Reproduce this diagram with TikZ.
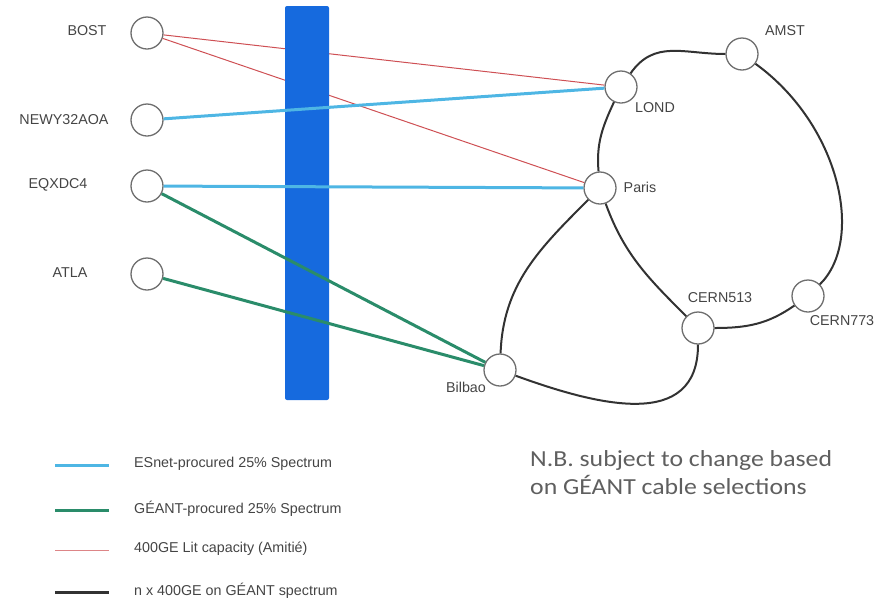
\documentclass[tikz,border=0pt]{standalone}
\usepackage{fontspec}
\setmainfont{Liberation Sans}
\newfontfamily\notefont[FakeStretch=1.12]{Carlito}
\definecolor{barblue}{RGB}{22,106,222}
\definecolor{esnet}{RGB}{78,182,228}
\definecolor{geant}{RGB}{42,140,106}
\definecolor{litred}{RGB}{206,80,84}
\definecolor{fiber}{RGB}{50,50,50}
\definecolor{ringgray}{RGB}{110,110,110}
\definecolor{labelgray}{RGB}{68,68,68}
\definecolor{notegray}{RGB}{95,95,95}
\begin{document}
\begin{tikzpicture}[x=1pt,y=1pt,
  site/.style={circle,draw=ringgray,line width=1.3pt,fill=white,minimum size=32pt,inner sep=0pt},
  lbl/.style={text=labelgray,font=\fontsize{14.3}{16}\selectfont,inner sep=0pt},
  esline/.style={esnet,line width=3pt},
  gnline/.style={geant,line width=3pt},
  redline/.style={litred,line width=1pt},
  fibline/.style={fiber,line width=2pt},
  legtxt/.style={text=labelgray,font=\fontsize{14.3}{16}\selectfont,inner sep=0pt,anchor=west}]
\useasboundingbox (0,0) rectangle (881,-598);

% sites
\node[site] (bost) at (147,-33) {};
\node[site] (newy) at (147,-120) {};
\node[site] (eqx)  at (147,-186) {};
\node[site] (atla) at (147,-274) {};
\node[site] (lond) at (621,-87) {};
\node[site] (amst) at (742,-54) {};
\node[site] (paris) at (600,-188) {};
\node[site] (c513) at (698,-328) {};
\node[site] (c773) at (808,-296) {};
\node[site] (bilbao) at (500,-370) {};

% site names
\node[lbl] at (87,-31) {BOST};
\node[lbl] at (64,-120) {NEWY32AOA};
\node[lbl] at (58,-185) {EQXDC4};
\node[lbl] at (70,-273) {ATLA};
\node[lbl] at (655,-108) {LOND};
\node[lbl] at (785,-31) {AMST};
\node[lbl] at (640,-187) {Paris};
\node[lbl] at (720,-298) {CERN513};
\node[lbl] at (842,-321) {CERN773};
\node[lbl] at (466,-387) {Bilbao};

% lit capacity (passes under the bar)
\draw[redline] (bost) -- (lond);
\draw[redline] (bost) -- (paris);

% spectrum bar
\fill[barblue,rounded corners=2pt] (285,-6) rectangle (329,-400);

% spectrum links
\draw[esline] (newy) -- (lond);
\draw[esline] (eqx) -- (paris);
\draw[gnline] (eqx) -- (bilbao);
\draw[gnline] (atla) -- (bilbao);

% fibre ring
\draw[fibline] (lond) to[out=55,in=180,looseness=1.1] (amst);
\draw[fibline] (amst) .. controls (840,-125) and (865,-240) .. (c773);
\draw[fibline] (c773) to[out=215,in=0] (c513);
\draw[fibline] (c513) to[out=-90,in=-20,looseness=1.2] (bilbao);
\draw[fibline] (bilbao) to[out=88,in=-135] (paris);
\draw[fibline] (paris) to[out=-70,in=135] (c513);
\draw[fibline] (lond) to[out=-115,in=95] (paris);

% legend
\coordinate (l1a) at (55,-465); \coordinate (l1b) at (109,-465);
\coordinate (l2a) at (55,-510); \coordinate (l2b) at (109,-510);
\coordinate (l3a) at (55,-550); \coordinate (l3b) at (109,-550);
\coordinate (l4a) at (55,-592); \coordinate (l4b) at (109,-592);
\draw[esline] (l1a) -- (l1b);
\draw[gnline] (l2a) -- (l2b);
\draw[litred!70,line width=0.9pt] (l3a) -- (l3b);
\draw[fiber,line width=3pt] (l4a) -- (l4b);
\node[legtxt] at (134,-464) {ESnet-procured 25\% Spectrum};
\node[legtxt] at (134,-509) {GÉANT-procured 25\% Spectrum};
\node[legtxt] at (134,-549) {400GE Lit capacity (Amitié)};
\node[legtxt] at (134,-591) {n x 400GE on GÉANT spectrum};

% note
\node[text=notegray,font=\notefont\fontsize{23}{28}\selectfont,anchor=north west,inner sep=0pt,align=left] at (530,-450)
  {N.B. subject to change based\\on GÉANT cable selections};
\end{tikzpicture}
\end{document}
